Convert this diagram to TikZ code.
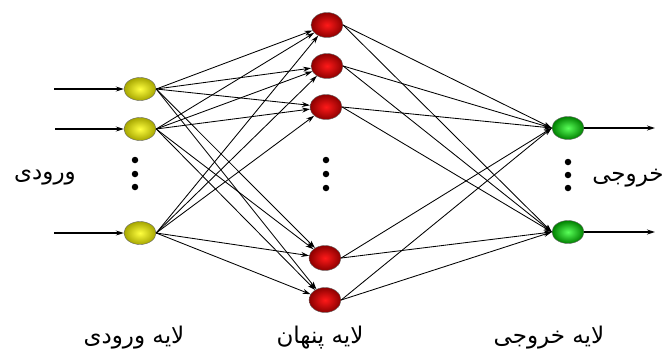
\documentclass[tikz,border=0pt]{standalone}
\usepackage{fontspec}
\newfontfamily\arabicfont[Script=Arabic]{DejaVu Sans}
\TeXXeTstate=1
\usetikzlibrary{shapes.geometric,arrows.meta}
\begin{document}
\begin{tikzpicture}[x=1pt,y=-1pt,
  neuron/.style={ellipse, minimum width=32pt, minimum height=23pt, inner sep=0pt, shading=radial, draw=black!60, line width=0.4pt},
  inn/.style={neuron, inner color=yellow!75!white, outer color=yellow!65!black},
  hid/.style={neuron, inner color=red!90!white, outer color=red!55!black, minimum height=25pt},
  outn/.style={neuron, inner color=green!65!white, outer color=green!50!black},
  conn/.style={-{Stealth[length=8pt,width=5pt]}, line width=0.85pt},
  ioarrow/.style={-{Stealth[length=8pt,width=5pt]}, line width=1.2pt},
  dotm/.style={circle, fill=black, inner sep=0pt, minimum size=6.5pt},
  lbl/.style={font=\arabicfont\fontsize{23}{26}\selectfont, inner sep=0pt}]
\fill[white] (0,0) rectangle (670,354);
\useasboundingbox (0,0) rectangle (670,354);

% input layer
\node[inn] (i1) at (140,89) {};
\node[inn] (i2) at (140,129) {};
\node[inn] (i3) at (140,233) {};
% hidden layer
\node[hid] (h1) at (327,25) {};
\node[hid] (h2) at (327,66) {};
\node[hid] (h3) at (326,107) {};
\node[hid] (h4) at (325,258) {};
\node[hid] (h5) at (325,300) {};
% output layer
\node[outn] (o1) at (568,128) {};
\node[outn] (o2) at (568,232) {};

% free ends
\coordinate (s1) at (54,89);
\coordinate (s2) at (55,129);
\coordinate (s3) at (54,233);
\coordinate (e1) at (655,128);
\coordinate (e2) at (655,232);

\draw[ioarrow] (s1) -- (i1.west);
\draw[ioarrow] (s2) -- (i2.west);
\draw[ioarrow] (s3) -- (i3.west);
\draw[ioarrow] (o1.east) -- (e1);
\draw[ioarrow] (o2.east) -- (e2);

\foreach \i in {i1,i2,i3}
  \foreach \h in {h1,h2,h3,h4,h5}
    \draw[conn] (\i.east) -- (\h);
\foreach \h in {h1,h2,h3,h4,h5}
  \foreach \o in {o1,o2}
    \draw[conn] (\h.east) -- (\o.west);

% ellipsis dots
\node[dotm] (d1) at (135,160) {};
\node[dotm] (d2) at (135,174) {};
\node[dotm] (d3) at (135,187) {};
\node[dotm] (d4) at (326,160) {};
\node[dotm] (d5) at (326,174) {};
\node[dotm] (d6) at (326,188) {};
\node[dotm] (d7) at (568,162) {};
\node[dotm] (d8) at (568,175) {};
\node[dotm] (d9) at (568,188) {};

% labels
\node[lbl] (lin) at (45,178) {\beginR ورودی\endR};
\node[lbl] (lout) at (628,178) {\beginR خروجی\endR};
\node[lbl] (Lin) at (134,338) {\beginR لایه ورودی\endR};
\node[lbl] (Lhid) at (320,338) {\beginR لایه پنهان\endR};
\node[lbl] (Lout) at (549,338) {\beginR لایه خروجی\endR};
\end{tikzpicture}
\end{document}
